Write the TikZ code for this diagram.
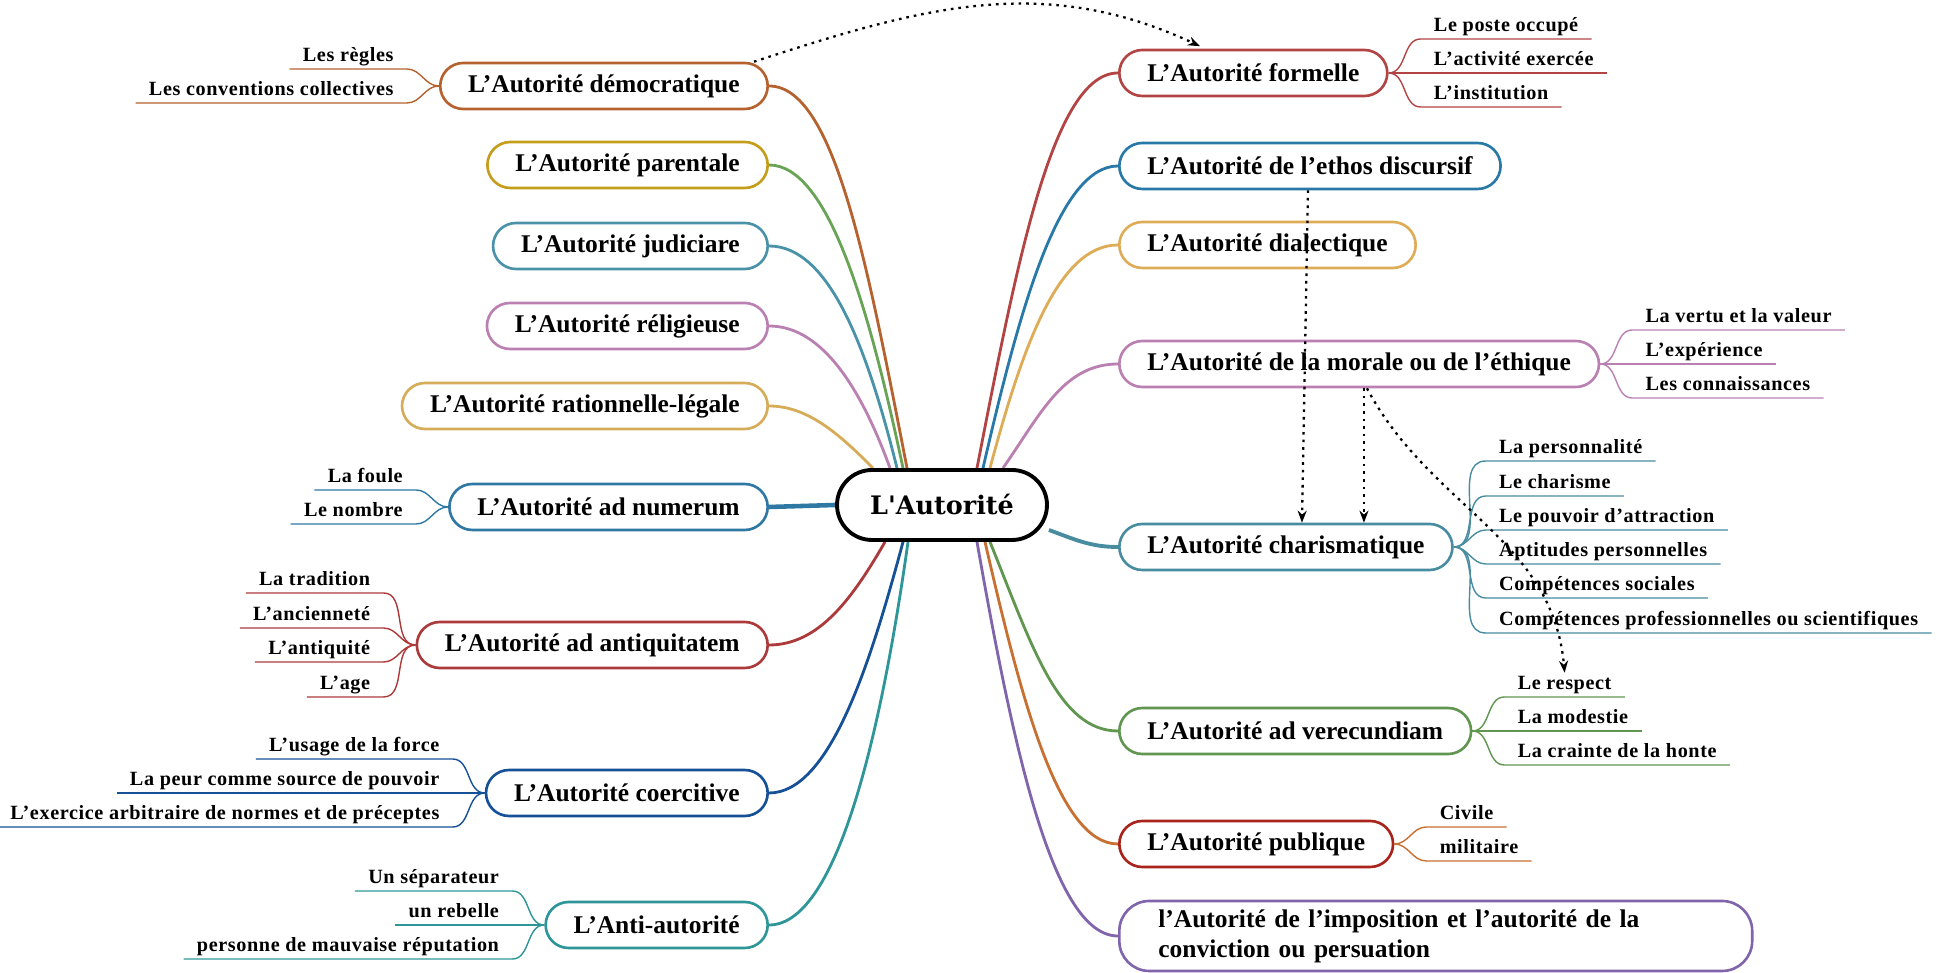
\documentclass[tikz,border=0pt]{standalone}
\usepackage{fontspec}
\setmainfont{Liberation Serif}
\newfontfamily\hubfont{DejaVu Serif}
\newfontfamily\leaffont[LetterSpace=3,Ligatures=TeX]{Liberation Serif}
\usetikzlibrary{arrows.meta, positioning, calc, backgrounds}

\definecolor{cDem}{RGB}{181, 98, 47}
\definecolor{cParBox}{RGB}{196, 158, 26}
\definecolor{cParLink}{RGB}{104, 163, 86}
\definecolor{cJud}{RGB}{74, 146, 168}
\definecolor{cRel}{RGB}{186, 128, 178}
\definecolor{cRat}{RGB}{214, 172, 88}
\definecolor{cNum}{RGB}{46, 120, 163}
\definecolor{cAnt}{RGB}{172, 58, 58}
\definecolor{cCoe}{RGB}{22, 80, 150}
\definecolor{cAnti}{RGB}{46, 150, 152}
\definecolor{cForm}{RGB}{178, 68, 68}
\definecolor{cEth}{RGB}{40, 120, 168}
\definecolor{cDia}{RGB}{222, 172, 86}
\definecolor{cMor}{RGB}{186, 128, 178}
\definecolor{cCha}{RGB}{72, 140, 160}
\definecolor{cVer}{RGB}{96, 150, 80}
\definecolor{cPubBox}{RGB}{168, 36, 26}
\definecolor{cPubLink}{RGB}{200, 112, 50}
\definecolor{cImp}{RGB}{128, 100, 172}

\begin{document}
\begin{tikzpicture}[
  x=0.02cm, y=0.02cm,
  hub/.style={
    draw=black, line width=2.2pt, fill=white,
    rounded corners=0.7cm, minimum width=4.2cm, minimum height=1.4cm,
    font=\hubfont\bfseries\fontsize{14.5}{17}\selectfont
  },
  branch/.style={
    draw=#1, line width=1.5pt, fill=white,
    rounded corners=0.46cm, minimum height=0.92cm, inner xsep=0.56cm,
    font=\bfseries\fontsize{14.5}{16}\selectfont
  },
  leaf/.style={
    inner xsep=0.26cm, inner ysep=1.5pt, text height=8pt, text depth=2.4pt,
    font=\leaffont\bfseries\fontsize{11.5}{13}\selectfont
  },
  leafl/.style={leaf, anchor=south east},
  leafr/.style={leaf, anchor=south west},
  spoke/.style={draw=#1, line width=1.6pt},
  twig/.style={draw=#1, line width=0.8pt},
  hint/.style={
    line width=1.3pt, dash pattern=on 1.5pt off 2.8pt,
    -{Stealth[length=2.4mm, width=1.8mm]}
  }
]

\useasboundingbox (0,0) rectangle (1944,973);

\node[hub] (aut) at (942,468) {L\textquotesingle Autorité};

\node[branch=cDem, anchor=east] (dem) at (769,887) {L'Autorité démocratique};
\node[branch=cParBox, anchor=east] (par) at (769,808) {L'Autorité parentale};
\node[branch=cJud, anchor=east] (jud) at (769,727) {L'Autorité judiciare};
\node[branch=cRel, anchor=east] (rel) at (769,647) {L'Autorité réligieuse};
\node[branch=cRat, anchor=east] (rat) at (769,567) {L'Autorité rationnelle-légale};
\node[branch=cNum, anchor=east] (num) at (769,466) {L'Autorité ad numerum};
\node[branch=cAnt, anchor=east] (ant) at (769,328) {L'Autorité ad antiquitatem};
\node[branch=cCoe, anchor=east] (coe) at (769,180) {L'Autorité coercitive};
\node[branch=cAnti, anchor=east] (anti) at (769,48) {L'Anti-autorité};

\node[branch=cForm, anchor=west] (form) at (1118,900) {L'Autorité formelle};
\node[branch=cEth, anchor=west] (eth) at (1118,807) {L'Autorité de l'ethos discursif};
\node[branch=cDia, anchor=west] (dia) at (1118,728) {L'Autorité dialectique};
\node[branch=cMor, anchor=west] (mor) at (1118,609) {L'Autorité de la morale ou de l'éthique};
\node[branch=cCha, anchor=west] (cha) at (1118,426) {L'Autorité charismatique};
\node[branch=cVer, anchor=west] (ver) at (1118,242) {L'Autorité ad verecundiam};
\node[branch=cPubBox, anchor=west] (pub) at (1118,129) {L'Autorité publique};
\node[branch=cImp, anchor=west, text width=11.1cm, align=left,
      rounded corners=0.6cm, minimum height=1.4cm, inner xsep=0.78cm,
      font=\bfseries\fontsize{14.5}{17}\selectfont] (imp) at (1118,37)
  {l'Autorité de l'imposition et l'autorité de la\\conviction ou persuation};

% sub-items, left side
\node[leafl] (regles) at ($(dem.west)+(-32,17)$) {Les règles};
\node[leafl] (conventions) at ($(dem.west)+(-32,-17)$) {Les conventions collectives};

\node[leafl] (foule) at ($(num.west)+(-32,17)$) {La foule};
\node[leafl] (nombre) at ($(num.west)+(-32,-17)$) {Le nombre};

\node[leafl] (tradition) at ($(ant.west)+(-32,52)$) {La tradition};
\node[leafl] (anciennete) at ($(ant.west)+(-32,17)$) {L'ancienneté};
\node[leafl] (antiquite) at ($(ant.west)+(-32,-17)$) {L'antiquité};
\node[leafl] (age) at ($(ant.west)+(-32,-52)$) {L'age};

\node[leafl] (force) at ($(coe.west)+(-32,34)$) {L'usage de la force};
\node[leafl] (peur) at ($(coe.west)+(-32,0)$) {La peur comme source de pouvoir};
\node[leafl] (arbitraire) at ($(coe.west)+(-32,-34)$) {L'exercice arbitraire de normes et de préceptes};

\node[leafl] (separateur) at ($(anti.west)+(-32,34)$) {Un séparateur};
\node[leafl] (rebelle) at ($(anti.west)+(-32,0)$) {un rebelle};
\node[leafl] (reputation) at ($(anti.west)+(-32,-34)$) {personne de mauvaise réputation};

% sub-items, right side
\node[leafr] (poste) at ($(form.east)+(32,34)$) {Le poste occupé};
\node[leafr] (activite) at ($(form.east)+(32,0)$) {L'activité exercée};
\node[leafr] (institution) at ($(form.east)+(32,-34)$) {L'institution};

\node[leafr] (vertu) at ($(mor.east)+(32,34)$) {La vertu et la valeur};
\node[leafr] (experience) at ($(mor.east)+(32,0)$) {L'expérience};
\node[leafr] (connaissances) at ($(mor.east)+(32,-34)$) {Les connaissances};

\node[leafr] (personnalite) at ($(cha.east)+(32,86)$) {La personnalité};
\node[leafr] (charisme) at ($(cha.east)+(32,51)$) {Le charisme};
\node[leafr] (attraction) at ($(cha.east)+(32,17)$) {Le pouvoir d'attraction};
\node[leafr] (aptitudes) at ($(cha.east)+(32,-17)$) {Aptitudes personnelles};
\node[leafr] (sociales) at ($(cha.east)+(32,-51)$) {Compétences sociales};
\node[leafr] (scientifiques) at ($(cha.east)+(32,-86)$) {Compétences professionnelles ou scientifiques};

\node[leafr] (respect) at ($(ver.east)+(32,34)$) {Le respect};
\node[leafr] (modestie) at ($(ver.east)+(32,0)$) {La modestie};
\node[leafr] (honte) at ($(ver.east)+(32,-34)$) {La crainte de la honte};

\node[leafr] (civile) at ($(pub.east)+(32,17)$) {Civile};
\node[leafr] (militaire) at ($(pub.east)+(32,-17)$) {militaire};

% twigs
\draw[twig=cDem] (dem.west) to[out=180,in=0] (regles.south east) -- (regles.south west);
\draw[twig=cDem] (dem.west) to[out=180,in=0] (conventions.south east) -- (conventions.south west);
\draw[twig=cNum] (num.west) to[out=180,in=0] (foule.south east) -- (foule.south west);
\draw[twig=cNum] (num.west) to[out=180,in=0] (nombre.south east) -- (nombre.south west);
\draw[twig=cAnt] (ant.west) to[out=180,in=0] (tradition.south east) -- (tradition.south west);
\draw[twig=cAnt] (ant.west) to[out=180,in=0] (anciennete.south east) -- (anciennete.south west);
\draw[twig=cAnt] (ant.west) to[out=180,in=0] (antiquite.south east) -- (antiquite.south west);
\draw[twig=cAnt] (ant.west) to[out=180,in=0] (age.south east) -- (age.south west);
\draw[twig=cCoe] (coe.west) to[out=180,in=0] (force.south east) -- (force.south west);
\draw[twig=cCoe] (coe.west) -- (peur.south east) -- (peur.south west);
\draw[twig=cCoe] (coe.west) to[out=180,in=0] (arbitraire.south east) -- (arbitraire.south west);
\draw[twig=cAnti] (anti.west) to[out=180,in=0] (separateur.south east) -- (separateur.south west);
\draw[twig=cAnti] (anti.west) -- (rebelle.south east) -- (rebelle.south west);
\draw[twig=cAnti] (anti.west) to[out=180,in=0] (reputation.south east) -- (reputation.south west);

\draw[twig=cForm] (form.east) to[out=0,in=180] (poste.south west) -- (poste.south east);
\draw[twig=cForm] (form.east) -- (activite.south west) -- (activite.south east);
\draw[twig=cForm] (form.east) to[out=0,in=180] (institution.south west) -- (institution.south east);
\draw[twig=cMor] (mor.east) to[out=0,in=180] (vertu.south west) -- (vertu.south east);
\draw[twig=cMor] (mor.east) -- (experience.south west) -- (experience.south east);
\draw[twig=cMor] (mor.east) to[out=0,in=180] (connaissances.south west) -- (connaissances.south east);
\draw[twig=cCha] (cha.east) to[out=0,in=180] (personnalite.south west) -- (personnalite.south east);
\draw[twig=cCha] (cha.east) to[out=0,in=180] (charisme.south west) -- (charisme.south east);
\draw[twig=cCha] (cha.east) to[out=0,in=180] (attraction.south west) -- (attraction.south east);
\draw[twig=cCha] (cha.east) to[out=0,in=180] (aptitudes.south west) -- (aptitudes.south east);
\draw[twig=cCha] (cha.east) to[out=0,in=180] (sociales.south west) -- (sociales.south east);
\draw[twig=cCha] (cha.east) to[out=0,in=180] (scientifiques.south west) -- (scientifiques.south east);
\draw[twig=cVer] (ver.east) to[out=0,in=180] (respect.south west) -- (respect.south east);
\draw[twig=cVer] (ver.east) -- (modestie.south west) -- (modestie.south east);
\draw[twig=cVer] (ver.east) to[out=0,in=180] (honte.south west) -- (honte.south east);
\draw[twig=cPubLink] (pub.east) to[out=0,in=180] (civile.south west) -- (civile.south east);
\draw[twig=cPubLink] (pub.east) to[out=0,in=180] (militaire.south west) -- (militaire.south east);

% spokes from the centre
\begin{scope}[on background layer]
  \draw[spoke=cDem] (dem.east) to[out=0, in=101, out distance=1.3cm, in distance=4.2cm] ([xshift=-0.70cm]aut.north);
  \draw[spoke=cParLink] (par.east) to[out=0, in=102, out distance=1.2cm, in distance=3.2cm] ([xshift=-0.78cm]aut.north);
  \draw[spoke=cJud] (jud.east) to[out=0, in=104, out distance=1.2cm, in distance=2.5cm] ([xshift=-0.90cm]aut.north);
  \draw[spoke=cRel] (rel.east) to[out=0, in=110, out distance=1.1cm, in distance=1.6cm] ([xshift=-1.04cm]aut.north);
  \draw[spoke=cRat] (rat.east) to[out=0, in=135, out distance=0.8cm, in distance=0.9cm] ([xshift=-1.38cm]aut.north);
  \draw[spoke=cNum, line width=2.6pt] (num.east) -- (aut.west);
  \draw[spoke=cAnt] (ant.east) to[out=0, in=240, out distance=1.0cm, in distance=1.3cm] ([xshift=-1.14cm]aut.south);
  \draw[spoke=cCoe] (coe.east) to[out=0, in=255, out distance=1.2cm, in distance=2.6cm] ([xshift=-0.78cm]aut.south);
  \draw[spoke=cAnti] (anti.east) to[out=0, in=262, out distance=1.3cm, in distance=4.2cm] ([xshift=-0.68cm]aut.south);

  \draw[spoke=cForm] (form.west) to[out=180, in=79, out distance=1.3cm, in distance=4.2cm] ([xshift=0.70cm]aut.north);
  \draw[spoke=cEth] (eth.west) to[out=180, in=77, out distance=1.2cm, in distance=3.2cm] ([xshift=0.82cm]aut.north);
  \draw[spoke=cDia] (dia.west) to[out=180, in=75, out distance=1.2cm, in distance=2.5cm] ([xshift=0.96cm]aut.north);
  \draw[spoke=cMor] (mor.west) to[out=180, in=55, out distance=1.1cm, in distance=1.3cm] ([xshift=1.22cm]aut.north);
  \draw[spoke=cCha, line width=2.2pt] (cha.west) to[out=180, in=-20] ([yshift=-0.5cm]aut.east);
  \draw[spoke=cVer] (ver.west) to[out=180, in=292, out distance=1.2cm, in distance=2.2cm] ([xshift=0.96cm]aut.south);
  \draw[spoke=cPubLink] (pub.west) to[out=180, in=283, out distance=1.2cm, in distance=3.2cm] ([xshift=0.86cm]aut.south);
  \draw[spoke=cImp] (imp.west) to[out=180, in=280, out distance=1.3cm, in distance=4.2cm] ([xshift=0.70cm]aut.south);
\end{scope}

% dotted links
\draw[hint] ([xshift=-0.3cm]dem.north east) to[out=18, in=155] ([xshift=1.64cm, yshift=0.05cm]form.north west);
\draw[hint] ([xshift=3.8cm]eth.south west) -- ([xshift=3.68cm]cha.north west);
\draw[hint] ([xshift=4.92cm]mor.south west) -- ([xshift=4.92cm]cha.north west);
\draw[hint] ([xshift=4.98cm]mor.south west) to[out=-62, in=95] (respect.north);

\end{tikzpicture}
\end{document}
